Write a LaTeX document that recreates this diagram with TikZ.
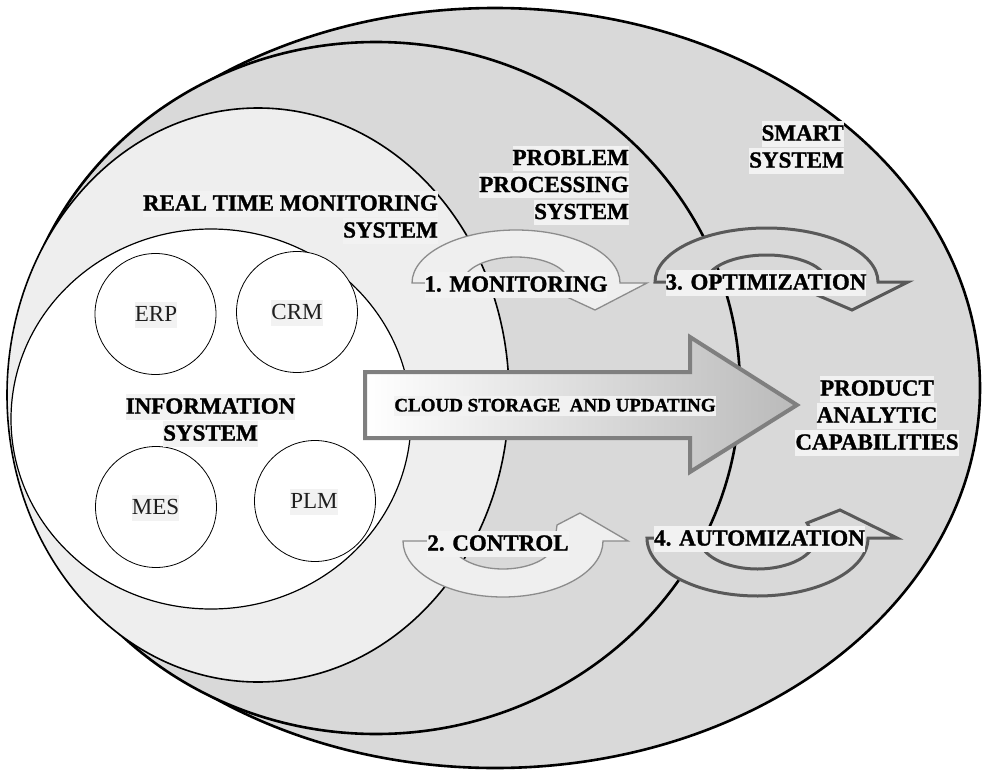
\documentclass[tikz,border=0pt]{standalone}
\usepackage{fontspec}
\setmainfont{Liberation Serif}[BoldFeatures={FakeBold=1.2}]
\definecolor{bggray}{HTML}{D9D9D9}
\definecolor{rtfill}{HTML}{EEEEEE}
\definecolor{hlc}{HTML}{F2F2F2}
\definecolor{bandfill}{HTML}{EFEFEF}
\definecolor{bandline}{HTML}{8C8C8C}
\definecolor{darkline}{HTML}{595959}
\definecolor{arrowline}{HTML}{7F7F7F}
\setlength{\fboxsep}{0pt}
\newcommand{\hlb}[1]{\colorbox{hlc}{\rule[-0.26em]{0pt}{1.09em}#1}}
\begin{document}
\begin{tikzpicture}[x=1pt,y=-1pt,
  ring/.style={draw=black,line width=2.6pt},
  bandlight/.style={fill=bandfill,draw=bandline,line width=1.3pt,line join=miter},
  banddark/.style={fill=bggray,draw=darkline,line width=3pt,line join=miter},
  lbl/.style={inner sep=0pt,font=\fontsize{23}{27}\selectfont\bfseries},
  sublbl/.style={inner sep=0pt,font=\fontsize{23}{27}\selectfont,text=black!88},
  small/.style={draw=black,line width=0.8pt,fill=white}]
\useasboundingbox (0,0) rectangle (982,773);
% nested systems
\draw[ring,fill=bggray] (495,388) ellipse [x radius=485pt,y radius=380pt];
\draw[ring,fill=bggray] (376,388) ellipse [x radius=364pt,y radius=346pt];
\draw[draw=black,line width=1.6pt,fill=rtfill] (258,395) ellipse [x radius=251pt,y radius=287pt];
\draw[draw=black,line width=1.2pt,fill=white] (211,419) ellipse [x radius=200pt,y radius=190pt];
% sub systems
\draw[small] (155.5,314) circle [radius=60.5pt];
\draw[small] (297,312) circle [radius=60.5pt];
\draw[small] (156,507) circle [radius=60.5pt];
\draw[small] (315,501) circle [radius=60.5pt];
\node[sublbl] (erp) at (156,315) {\hlb{ERP}};
\node[sublbl] (crm) at (297,313) {\hlb{CRM}};
\node[sublbl] (mes) at (155.5,508) {\hlb{MES}};
\node[sublbl] (plm) at (314,502) {\hlb{PLM}};
% big arrow
\draw[draw=arrowline,line width=4pt,line join=miter,left color=white,right color=black!27]
  (365,372) -- (690,372) -- (690,337) -- (797,405) -- (690,472) -- (690,438) -- (365,438) -- cycle;
% curved arrows
\draw[bandlight] (412,283) arc[start angle=180,end angle=0,x radius=104pt,y radius=53pt]
  -- (647,283) -- (595,310) -- (567,297) -- (569,283)
  arc[start angle=0,end angle=180,x radius=53pt,y radius=26pt] -- cycle;
\draw[banddark] (655,282) arc[start angle=180,end angle=0,x radius=111.5pt,y radius=54pt]
  -- (908,282) -- (852,310) -- (817,295) -- (826.5,282)
  arc[start angle=0,end angle=180,x radius=60pt,y radius=27pt] -- cycle;
\draw[bandlight] (403,541) arc[start angle=180,end angle=360,x radius=100pt,y radius=56pt]
  -- (628,541) -- (580,513) -- (557,525) -- (555,541)
  arc[start angle=360,end angle=180,x radius=52pt,y radius=28pt] -- cycle;
\draw[banddark] (647,538) arc[start angle=180,end angle=360,x radius=110.5pt,y radius=58pt]
  -- (897,538) -- (840,510) -- (807,523) -- (815.5,538)
  arc[start angle=360,end angle=180,x radius=58pt,y radius=31pt] -- cycle;
% labels
\node[lbl,align=right,anchor=east] (rtms) at (438,217.5) {\hlb{REAL TIME MONITORING}\\\hlb{SYSTEM}};
\node[lbl,align=right,anchor=east] (pps) at (629,185.5) {\hlb{PROBLEM}\\\hlb{PROCESSING}\\\hlb{SYSTEM}};
\node[lbl,align=right,anchor=east] (ss) at (844,147.5) {\hlb{SMART}\\\hlb{SYSTEM}};
\node[lbl,align=center] (is) at (210.5,420.5) {\hlb{INFORMATION}\\\hlb{SYSTEM}};
\node[lbl,align=center] (pac) at (877,416) {\hlb{PRODUCT}\\\hlb{ANALYTIC}\\\hlb{CAPABILITIES}};
\node[lbl,font=\fontsize{19}{23}\selectfont\bfseries] (cloud) at (555,406) {\hlb{CLOUD STORAGE\ \ AND UPDATING}};
\node[lbl] (mon) at (516,285) {\hlb{1. MONITORING}};
\node[lbl] (opt) at (766,283) {\hlb{3. OPTIMIZATION}};
\node[lbl] (ctl) at (498,544) {\hlb{2. CONTROL}};
\node[lbl] (aut) at (759.5,539) {\hlb{4. AUTOMIZATION}};
\end{tikzpicture}
\end{document}
